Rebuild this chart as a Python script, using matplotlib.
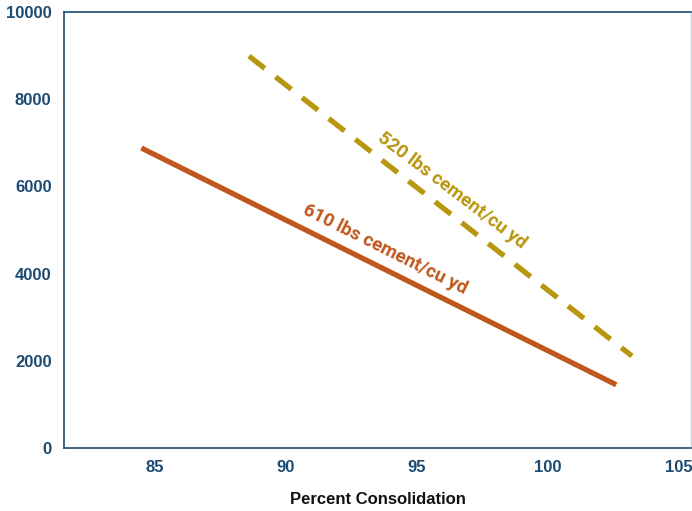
import matplotlib
matplotlib.use("Agg")
import matplotlib.pyplot as plt

# data
x_610 = [84.5, 102.6]
y_610 = [6880, 1450]
x_520 = [88.6, 103.2]
y_520 = [8990, 2110]
x_ticks = [85, 90, 95, 100, 105]
y_ticks = [0, 2000, 4000, 6000, 8000, 10000]

c_610 = "#c0571c"
c_520 = "#b8960d"
navy = "#1b4a72"

fig = plt.figure(figsize=(6.92, 5.11), dpi=100)
ax = fig.add_axes([0.0925, 0.1233, 0.906, 0.8532])

ax.plot(x_610, y_610, color=c_610, lw=3.8, solid_capstyle="butt")
ax.plot(x_520, y_520, color=c_520, lw=3.8, dashes=(3.8, 2.6), solid_capstyle="butt", dash_capstyle="butt")

ax.set_xlim(81.55, 105.45)
ax.set_ylim(0, 10000)
ax.set_xticks(x_ticks)
ax.set_yticks(y_ticks)
ax.tick_params(length=0, pad=9, labelsize=12, colors=navy)
for lab in ax.get_xticklabels() + ax.get_yticklabels():
    lab.set_fontweight("bold")
    lab.set_fontfamily("Liberation Sans")
for s in ["left", "bottom", "top"]:
    ax.spines[s].set_color(navy)
    ax.spines[s].set_linewidth(1.2)
ax.spines["right"].set_color("#c8d4e0")
ax.spines["right"].set_linewidth(1.0)

ax.set_xlabel("Percent Consolidation", fontsize=12, fontweight="bold",
              fontfamily="Liberation Sans", color="#111111", labelpad=12)

ax.text(93.8, 4560, "610 lbs cement/cu yd", color=c_610, fontsize=13.5,
        fontweight="bold", fontfamily="Roboto", rotation=-26.5,
        ha="center", va="center", rotation_mode="anchor")
ax.text(96.35, 5920, "520 lbs cement/cu yd", color=c_520, fontsize=13.5,
        fontweight="bold", fontfamily="Roboto", rotation=-37,
        ha="center", va="center", rotation_mode="anchor")

fig.savefig("out.png", dpi=100)
